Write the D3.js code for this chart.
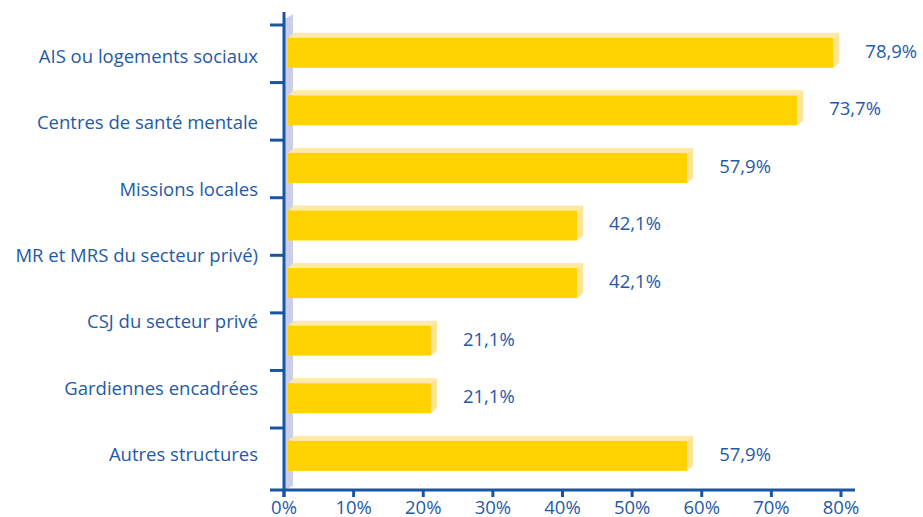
<!DOCTYPE html>
<html><head><meta charset="utf-8">
<script src="https://cdn.jsdelivr.net/npm/d3@7"></script>
<style>
body{margin:0;background:#fff;}
text{font-family:"Open Sans","Noto Sans",sans-serif;fill:#1f5aa6;}
</style></head>
<body><svg id="chart" width="923" height="517"></svg>
<script>
const categories = ["AIS ou logements sociaux","Centres de santé mentale","Missions locales","MR et MRS du secteur privé)","CSJ du secteur privé","Gardiennes encadrées","Autres structures"];
const values = [78.9, 73.7, 57.9, 42.1, 42.1, 21.1, 21.1, 57.9];
const valueLabels = ["78,9%","73,7%","57,9%","42,1%","42,1%","21,1%","21,1%","57,9%"];
const xTicks = [0,10,20,30,40,50,60,70,80];
const rows = ["r0","r1","r2","r3","r4","r5","r6","r7"];

const svg = d3.select("#chart");
const x = d3.scaleLinear().domain([0,80]).range([284,841]);
const y = d3.scaleBand().domain(rows).range([25,485.6]).paddingInner(0).paddingOuter(0);
const yLab = d3.scalePoint().domain(categories).range([56.5,454.5]);
const axisColor = "#1a56a0";
const dx = 6, dy = 5, fs = 18.5;

// back wall
svg.append("path")
  .attr("d", `M${x(0)+1},${19} L${x(0)+9},${14} L${x(0)+9},${486} L${x(0)+1},${490} Z`)
  .attr("fill","#c9cfe9");

// bars
const g = svg.append("g");
rows.forEach((r,i)=>{
  const bh = 30;
  const y0 = y(r) + (y.bandwidth()-bh)/2 - 1;
  const x0 = x(0)+4, x1 = x(values[i]);
  g.append("path").attr("d",`M${x0},${y0} L${x0+dx},${y0-dy} L${x1+dx},${y0-dy} L${x1},${y0} Z`).attr("fill","#ffe9a6");
  g.append("path").attr("d",`M${x1},${y0} L${x1+dx},${y0-dy} L${x1+dx},${y0+bh-dy} L${x1},${y0+bh} Z`).attr("fill","#ffe494");
  g.append("rect").attr("x",x0).attr("y",y0).attr("width",x1-x0).attr("height",bh).attr("fill","#ffd200");
  g.append("text").attr("x",x1+32).attr("y",y0+bh/2-1.5).attr("dy","0.35em")
    .attr("font-size",fs).text(valueLabels[i]);
});

// category labels
categories.forEach(c=>{
  svg.append("text").attr("x",258).attr("y",yLab(c)).attr("dy","0.35em")
    .attr("text-anchor","end").attr("font-size",fs).text(c);
});

// y axis
svg.append("line").attr("x1",x(0)).attr("x2",x(0)).attr("y1",12).attr("y2",497)
  .attr("stroke",axisColor).attr("stroke-width",3);
rows.forEach(r=>{
  svg.append("line").attr("x1",270).attr("x2",x(0)).attr("y1",y(r)).attr("y2",y(r))
    .attr("stroke",axisColor).attr("stroke-width",3);
});
// x axis
svg.append("line").attr("x1",270).attr("x2",855).attr("y1",490).attr("y2",490)
  .attr("stroke",axisColor).attr("stroke-width",3);
xTicks.forEach(t=>{
  svg.append("line").attr("x1",x(t)).attr("x2",x(t)).attr("y1",490).attr("y2",497)
    .attr("stroke",axisColor).attr("stroke-width",3);
  svg.append("text").attr("x",x(t)).attr("y",513.5).attr("text-anchor","middle")
    .attr("font-size",fs).text(t+"%");
});
</script></body></html>
